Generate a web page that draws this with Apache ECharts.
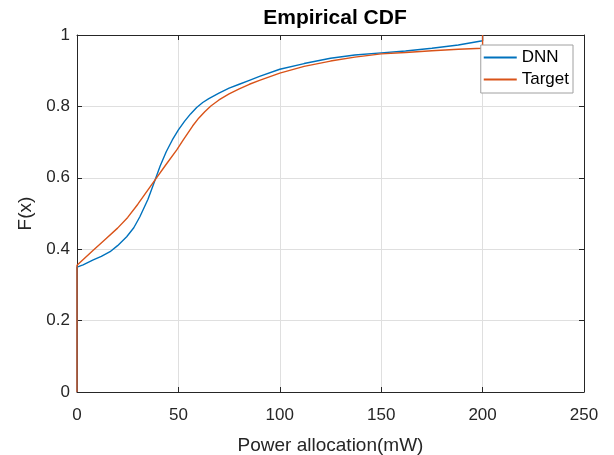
<!DOCTYPE html>
<html>
<head>
<meta charset="utf-8">
<script src="https://cdn.jsdelivr.net/npm/echarts@6/dist/echarts.min.js"></script>
<style>
html,body{margin:0;padding:0;background:#fff;}
#chart{width:614px;height:455px;}
</style>
</head>
<body>
<div id="chart"></div>
<script>
const titleText = "Empirical CDF";
const xLabel = "Power allocation(mW)";
const yLabel = "F(x)";
const seriesNames = ["DNN", "Target"];

const dnnX = [0, 0, 3, 8, 12, 16.3, 20, 24.5, 28, 31, 35, 38.5, 41, 44, 47, 50, 53, 56, 59, 62, 65, 70, 75, 80, 85, 90, 100, 112, 125, 137, 150, 162, 175, 188, 200, 200];
const dnnY = [0, 0.35, 0.356, 0.37, 0.38, 0.393, 0.41, 0.435, 0.46, 0.491, 0.54, 0.594, 0.633, 0.673, 0.706, 0.734, 0.758, 0.779, 0.797, 0.811, 0.822, 0.837, 0.851, 0.862, 0.873, 0.884, 0.904, 0.92, 0.935, 0.944, 0.950, 0.955, 0.963, 0.972, 0.984, 1];

const tgtX = [0, 0, 8, 14, 20, 25, 30, 38.5, 44, 49.2, 52.4, 57, 60, 63, 66, 70, 75, 80, 85, 90, 100, 112, 125, 137, 150, 162, 175, 188, 200, 200];
const tgtY = [0, 0.355, 0.397, 0.428, 0.459, 0.489, 0.526, 0.594, 0.638, 0.678, 0.706, 0.745, 0.767, 0.785, 0.801, 0.818, 0.835, 0.849, 0.862, 0.873, 0.893, 0.912, 0.927, 0.938, 0.947, 0.951, 0.956, 0.96, 0.963, 1];

const xMin = 0, xMax = 250, xStep = 50;
const yMin = 0, yMax = 1, yStep = 0.2;

const pair = (xs, ys) => xs.map((x, i) => [x, ys[i]]);
const FONT = '"Liberation Sans", Arial, Helvetica, sans-serif';
const TXT = '#262626';

const chart = echarts.init(document.getElementById('chart'), null, {renderer: 'canvas'});

const tickStyle = {show: true, inside: true, length: 5, lineStyle: {color: TXT, width: 1}};
const lineAx = {show: true, onZero: false, lineStyle: {color: TXT, width: 1}};

chart.setOption({
  animation: false,
  backgroundColor: '#fff',
  title: {
    text: titleText,
    left: 330, top: 3,
    textAlign: 'center',
    textStyle: {fontFamily: FONT, fontSize: 21, fontWeight: 'bold', color: '#000'}
  },
  grid: {left: 77, right: 30, top: 35, bottom: 63, containLabel: false, outerBoundsMode: 'none'},
  legend: {
    orient: 'vertical',
    right: 41, top: 45,
    padding: [4, 4, 5, 3],
    itemGap: 5,
    itemWidth: 33, itemHeight: 2,
    icon: 'rect',
    borderColor: '#a0a0a0', borderWidth: 1,
    backgroundColor: '#fff',
    textStyle: {fontFamily: FONT, fontSize: 17, color: '#000'},
    data: seriesNames
  },
  xAxis: [{
    type: 'value', min: xMin, max: xMax, interval: xStep,
    name: xLabel, nameLocation: 'middle', nameGap: 44,
    nameTextStyle: {fontFamily: FONT, fontSize: 19, color: TXT},
    axisLine: lineAx, axisTick: tickStyle,
    axisLabel: {fontFamily: FONT, fontSize: 17, color: TXT, margin: 15},
    splitLine: {show: true, lineStyle: {color: '#dfdfdf', width: 1}}
  }, {
    type: 'value', min: xMin, max: xMax, interval: xStep, position: 'top',
    axisLine: lineAx, axisTick: tickStyle, axisLabel: {show: false}, splitLine: {show: false}
  }],
  yAxis: [{
    type: 'value', min: yMin, max: yMax, interval: yStep,
    name: yLabel, nameLocation: 'middle', nameGap: 42,
    nameTextStyle: {fontFamily: FONT, fontSize: 19, color: TXT},
    axisLine: lineAx, axisTick: tickStyle,
    axisLabel: {fontFamily: FONT, fontSize: 17, color: TXT, margin: 7},
    splitLine: {show: true, lineStyle: {color: '#dfdfdf', width: 1}}
  }, {
    type: 'value', min: yMin, max: yMax, interval: yStep, position: 'right',
    axisLine: lineAx, axisTick: tickStyle, axisLabel: {show: false}, splitLine: {show: false}
  }],
  series: [{
    name: seriesNames[0], type: 'line', symbol: 'none',
    data: pair(dnnX, dnnY),
    lineStyle: {color: '#0072BD', width: 1.4},
    itemStyle: {color: '#0072BD'}
  }, {
    name: seriesNames[1], type: 'line', symbol: 'none',
    data: pair(tgtX, tgtY),
    lineStyle: {color: '#D95319', width: 1.4},
    itemStyle: {color: '#D95319'}
  }]
});
</script>
</body>
</html>
